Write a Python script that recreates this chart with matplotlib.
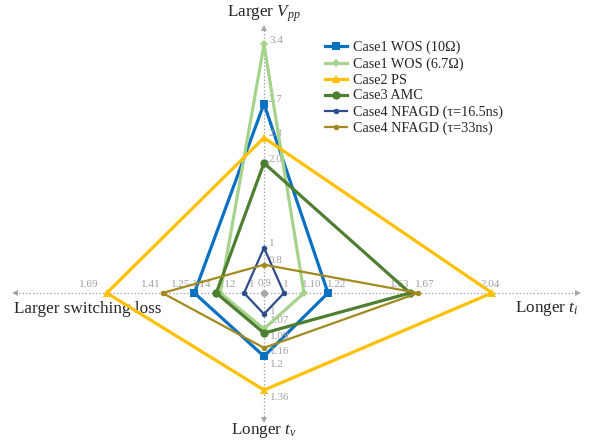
import matplotlib
matplotlib.use("Agg")
import matplotlib.pyplot as plt
from matplotlib.lines import Line2D

plt.rcParams["font.family"] = ["Liberation Serif", "DejaVu Serif"]
plt.rcParams["mathtext.fontset"] = "custom"
plt.rcParams["mathtext.rm"] = "Liberation Serif"
plt.rcParams["mathtext.it"] = "Liberation Serif:italic"

# ---- data -------------------------------------------------------------
cases = [
    "Case1 WOS (10Ω)",
    "Case1 WOS (6.7Ω)",
    "Case2 PS",
    "Case3 AMC",
    "Case4 NFAGD (τ=16.5ns)",
    "Case4 NFAGD (τ=33ns)",
]
vpp = ["2.7", "3.4", "2.3", "2.0", "1", "0.8"]          # up
t_i = ["1.22", "1.10", "2.04", "1.63", "1", "1.67"]     # right
t_v = ["1.2", "1.07", "1.36", "1.09", "1", "1.16"]      # down
sw_loss = ["1.25", "1.12", "1.69", "1.14", "1", "1.41"]  # left
center_value = "0.9"

# ---- styling ----------------------------------------------------------
colors = ["#0A70C2", "#A6D38C", "#FFC000", "#4E7F30", "#2E4D8C", "#A18A1E"]
markers = ["s", "D", "^", "o", "o", "o"]
msizes = [5.5, 4.5, 5.5, 6, 4, 4]
lwidths = [2.3, 2.3, 2.3, 2.3, 1.6, 1.6]
axis_gray = "#A6A6A6"
label_gray = "#A0A0A0"
text_dark = "#262626"

# per-axis mapping: distance = scale * (value - origin)
axis_origin = {"up": 0.466, "right": 0.9, "down": 0.9, "left": 0.9}
axis_scale = {"up": 84.7, "right": 200.0, "down": 211.0, "left": 199.0}


def dist(direction, value):
    return axis_scale[direction] * (float(value) - axis_origin[direction])


def to_xy(direction, value):
    d = dist(direction, value)
    return {"up": (0, d), "right": (d, 0), "down": (0, -d), "left": (-d, 0)}[direction]


W, H = 591, 443
cx, cy = 264, 293  # centre of the diagram in figure pixels

fig = plt.figure(figsize=(W / 100, H / 100), dpi=100)
ax = fig.add_axes([0, 0, 1, 1])
ax.set_xlim(-cx, W - cx)
ax.set_ylim(-(H - cy), cy)
ax.axis("off")

# ---- dotted axes with arrowheads --------------------------------------
ax_left, ax_right, ax_top, ax_bottom = -249, 314, 265, -127
ax.plot([ax_left, ax_right], [0, 0], color=axis_gray, lw=0.9,
        ls=(0, (1.2, 1.6)), zorder=1)
ax.plot([0, 0], [ax_bottom, ax_top], color=axis_gray, lw=0.9,
        ls=(0, (1.2, 1.6)), zorder=1)
for (x, y, m) in [(ax_left, 0, "<"), (ax_right, 0, ">"),
                  (0, ax_top, "^"), (0, ax_bottom, "v")]:
    ax.plot(x, y, marker=m, color=axis_gray, ms=5, mew=0, zorder=1)

ax.plot(0, 0, marker="o", color=axis_gray, ms=5, mew=0, zorder=2)
ax.text(0, 5, center_value, color=label_gray, fontsize=8, ha="center", va="bottom")

# ---- series -----------------------------------------------------------
handles = []
for i, name in enumerate(cases):
    pts = [to_xy("up", vpp[i]), to_xy("right", t_i[i]),
           to_xy("down", t_v[i]), to_xy("left", sw_loss[i])]
    xs = [p[0] for p in pts] + [pts[0][0]]
    ys = [p[1] for p in pts] + [pts[0][1]]
    ax.plot(xs, ys, color=colors[i], lw=lwidths[i], zorder=3 + i,
            solid_joinstyle="miter")
    ax.plot(xs[:-1], ys[:-1], ls="none", marker=markers[i], ms=msizes[i],
            color=colors[i], mew=0, zorder=3 + i)
    handles.append(Line2D([], [], color=colors[i], lw=lwidths[i],
                          marker=markers[i], ms=msizes[i], mew=0))

# ---- value labels -----------------------------------------------------
# up axis: right of the point, slightly above
for v in vpp:
    x, y = to_xy("up", v)
    ax.text(x + 5, y + 4, v, color=label_gray, fontsize=8, ha="left", va="center")

# right axis: above the axis
right_ha = ["left", "left", "center", "right", "left", "left"]
right_dx = [-1, -2, -2, -1, -1, -3]
for v, ha, dx in zip(t_i, right_ha, right_dx):
    x, y = to_xy("right", v)
    ax.text(x + dx, 4, v, color=label_gray, fontsize=8, ha=ha, va="bottom")

# down axis: right of the point
down_dy = [-8, 8, -7, -3, 3, -4]
for v, dy in zip(t_v, down_dy):
    x, y = to_xy("down", v)
    ax.text(x + 6, y + dy, v, color=label_gray, fontsize=8, ha="left", va="center")

# left axis: above the axis
left_ha = ["right", "left", "right", "right", "left", "right"]
left_dx = [-4, -3, -8, -5, 5, -2]
for v, ha, dx in zip(sw_loss, left_ha, left_dx):
    x, y = to_xy("left", v)
    ax.text(x + dx, 4, v, color=label_gray, fontsize=8, ha=ha, va="bottom")

# ---- axis titles -------------------------------------------------------
title_kw = dict(fontsize=12.3, color=text_dark)
ax.text(0, 279, "Larger $V_{pp}$", ha="center", va="center", **title_kw)
ax.text(0, -138, "Longer $t_v$", ha="center", va="center", **title_kw)
ax.text(-250, -16, "Larger switching loss", ha="left", va="center", **title_kw)
ax.text(251, -16, "Longer $t_i$", ha="left", va="center", **title_kw)

# ---- legend ------------------------------------------------------------
leg = ax.legend(handles, cases, loc="upper left",
                bbox_to_anchor=(325 / W, 1 - 41 / H),
                frameon=False, fontsize=10.2, handlelength=1.55,
                handletextpad=0.45, labelspacing=0.2, borderaxespad=0,
                borderpad=0)
for t in leg.get_texts():
    t.set_color(text_dark)

fig.savefig("out.png", dpi=100)
